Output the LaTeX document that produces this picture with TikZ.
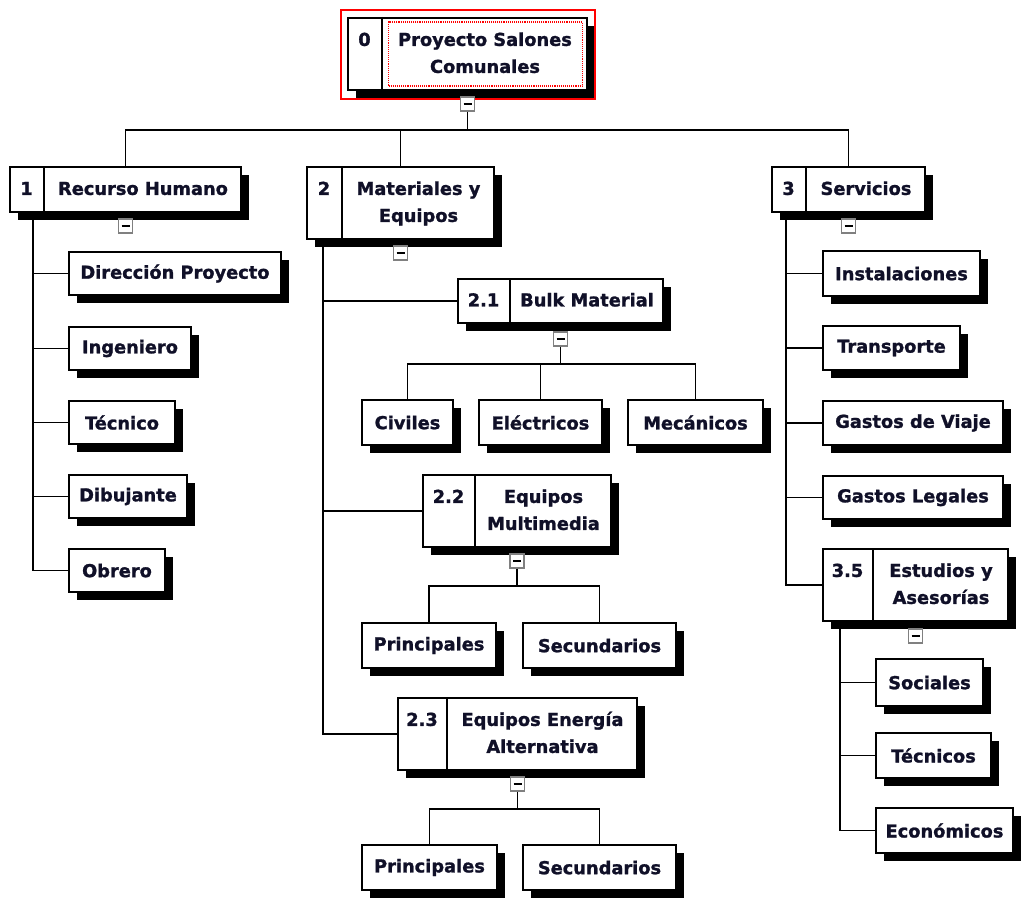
\documentclass[tikz,border=0pt]{standalone}
\usepackage{fontspec}
\setmainfont{DejaVu Sans}[BoldFeatures={FakeBold=1.3}]
\usetikzlibrary{shadows,calc}
\definecolor{txt}{RGB}{16,16,40}
\definecolor{collgray}{RGB}{128,128,128}
\newcommand{\wbsfont}{\fontsize{17.8}{27}\selectfont\bfseries}
\newcommand{\wbsnum}[8]{%
  \pgfmathsetmacro\wW{#4-#2}\pgfmathsetmacro\wH{#5-#3}%
  \pgfmathsetmacro\wCx{(#2+#4)/2}\pgfmathsetmacro\wCy{(#3+#5)/2}%
  \pgfmathsetmacro\wD{#6-#2}\pgfmathsetmacro\wDh{(#6-#2)/2}\pgfmathsetmacro\wLx{(#6+#4)/2}%
  \node[wbsbox, minimum width=\wW pt, minimum height=\wH pt] (#1) at (\wCx,\wCy) {};
  \draw[boxline] ([xshift=\wD pt]#1.north west) -- ([xshift=\wD pt]#1.south west);
  \node[wbstext, align=center] (#1-l) at (\wLx,\wCy) {#8};
  \node[wbstext, anchor=north] (#1-n) at ($(#1-l.north -| #1.west)+(\wDh,0)$) {\strut #7};
}
\newcommand{\wbsleaf}[6]{%
  \pgfmathsetmacro\wW{#4-#2}\pgfmathsetmacro\wH{#5-#3}%
  \pgfmathsetmacro\wCx{(#2+#4)/2}\pgfmathsetmacro\wCy{(#3+#5)/2}%
  \node[leafbox, minimum width=\wW pt, minimum height=\wH pt] (#1) at (\wCx,\wCy) {#6};
}
\begin{document}
\begin{tikzpicture}[x=1pt,y=-1pt,
  wbsbox/.style={draw=black, line width=2pt, fill=white,
    general shadow={fill=black, shadow xshift=8pt, shadow yshift=-8pt}, inner sep=0pt},
  leafbox/.style={wbsbox, font=\wbsfont, text=txt, align=center},
  wbstext/.style={font=\wbsfont, text=txt, inner sep=0pt},
  boxline/.style={line width=2pt},
  coll/.style={draw=collgray, line width=1.2pt, fill=white, minimum size=14pt, inner sep=0pt,
    path picture={\draw[black,line width=1.6pt] ([xshift=-4pt]path picture bounding box.center) -- ([xshift=4pt]path picture bounding box.center);}},
  conn/.style={line width=1.8pt, draw=black}]
\useasboundingbox (0,0) rectangle (1022,899);

% numbered nodes
\wbsnum{n0}{348}{18}{587}{90}{383}{0}{\strut Proyecto Salones\\\strut Comunales}
\wbsnum{n1}{10}{167}{241}{212}{45}{1}{\strut Recurso Humano}
\wbsnum{n2}{307}{167}{494}{239}{343}{2}{\strut Materiales y\\\strut Equipos}
\wbsnum{n3}{772}{167}{925}{212}{807}{3}{\strut Servicios}
\wbsnum{n21}{458}{279}{663}{323}{511}{2.1}{\strut Bulk Material}
\wbsnum{n22}{423}{475}{611}{547}{476}{2.2}{\strut Equipos\\\strut Multimedia}
\wbsnum{n23}{398}{698}{637}{770}{448}{2.3}{\strut Equipos Energía\\\strut Alternativa}
\wbsnum{n35}{823}{549}{1008}{621}{874}{3.5}{\strut Estudios y\\\strut Asesorías}

% selection frames on root
\node[draw=red, line width=1.5pt, minimum width=254pt, minimum height=89pt, inner sep=0pt] (sel) at (468,54.5) {};
\node[draw=red, densely dotted, line width=1.1pt, minimum width=194pt, minimum height=64pt, inner sep=0pt] (foc) at (485.5,54) {};

% leaves
\wbsleaf{d1}{69}{252}{281}{295}{Dirección Proyecto}
\wbsleaf{d2}{69}{327}{191}{370}{Ingeniero}
\wbsleaf{d3}{69}{401}{175}{444}{Técnico}
\wbsleaf{d4}{69}{475}{187}{518}{Dibujante}
\wbsleaf{d5}{69}{549}{165}{592}{Obrero}
\wbsleaf{civ}{362}{400}{453}{445}{Civiles}
\wbsleaf{ele}{479}{400}{602}{445}{Eléctricos}
\wbsleaf{mec}{628}{400}{763}{445}{Mecánicos}
\wbsleaf{pa}{362}{623}{496}{668}{Principales}
\wbsleaf{sa}{523}{623}{676}{668}{Secundarios}
\wbsleaf{pb}{362}{845}{497}{890}{Principales}
\wbsleaf{sb}{523}{845}{676}{890}{Secundarios}
\wbsleaf{s1}{823}{251}{980}{296}{Instalaciones}
\wbsleaf{s2}{823}{326}{960}{370}{Transporte}
\wbsleaf{s3}{823}{401}{1003}{445}{Gastos de Viaje}
\wbsleaf{s4}{823}{476}{1003}{519}{Gastos Legales}
\wbsleaf{e1}{876}{659}{983}{706}{Sociales}
\wbsleaf{e2}{876}{733}{991}{778}{Técnicos}
\wbsleaf{e3}{876}{808}{1013}{853}{Económicos}

% collapse markers
\node[coll] (c0) at ([yshift=-13pt]n0.south) {};
\node[coll] (c1) at ([yshift=-13pt]n1.south) {};
\node[coll] (c2) at ([yshift=-13pt]n2.south) {};
\node[coll] (c3) at ([yshift=-13pt]n3.south) {};
\node[coll] (c21) at ([yshift=-15pt]n21.south) {};
\node[coll] (c22) at ([yshift=-13pt]n22.south) {};
\node[coll] (c23) at ([yshift=-13pt]n23.south) {};
\node[coll] (c35) at ([yshift=-14pt]n35.south) {};

% connectors: top level
\path (c0.south) ++(0,18.5) coordinate (j0);
\draw[conn] (c0.south) -- (j0);
\draw[conn] (j0) -| (n1.north);
\draw[conn] (j0) -| (n2.north);
\draw[conn] (j0) -| (n3.north);

% node 1 children
\foreach \c in {d1,d2,d3,d4,d5}
  \draw[conn] ([xshift=24pt]n1.south west) |- (\c.west);
% node 2 children
\foreach \c in {n21,n22,n23}
  \draw[conn] ([xshift=17pt]n2.south west) |- (\c.west);
% node 3 children
\foreach \c in {s1,s2,s3,s4,n35}
  \draw[conn] ([xshift=15pt]n3.south west) |- (\c.west);
% node 3.5 children
\foreach \c in {e1,e2,e3}
  \draw[conn] ([xshift=18pt]n35.south west) |- (\c.west);

% 2.1 children
\path (c21.south) ++(0,17) coordinate (j21);
\draw[conn] (c21.south) -- (j21);
\foreach \c in {civ,ele,mec}
  \draw[conn] (j21) -| (\c.north);
% 2.2 children
\path (c22.south) ++(0,17) coordinate (j22);
\draw[conn] (c22.south) -- (j22);
\foreach \c in {pa,sa}
  \draw[conn] (j22) -| (\c.north);
% 2.3 children
\path (c23.south) ++(0,17) coordinate (j23);
\draw[conn] (c23.south) -- (j23);
\foreach \c in {pb,sb}
  \draw[conn] (j23) -| (\c.north);
\end{tikzpicture}
\end{document}
